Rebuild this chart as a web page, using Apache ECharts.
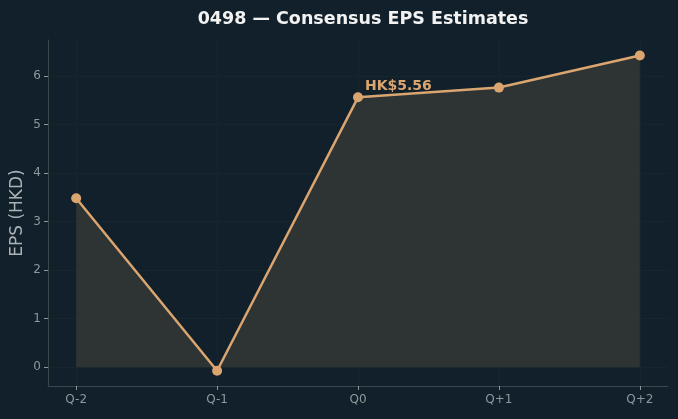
<!DOCTYPE html>
<html>
<head>
<meta charset="utf-8">
<script src="https://cdn.jsdelivr.net/npm/echarts@6/dist/echarts.min.js"></script>
<style>
  html, body { margin: 0; padding: 0; background: #11202a; }
  #chart { width: 678px; height: 419px; }
</style>
</head>
<body>
<div id="chart"></div>
<script>
// quarters and consensus EPS (HKD)
const quarters = ["Q-2", "Q-1", "Q0", "Q+1", "Q+2"];
const eps = [3.48, -0.07, 5.56, 5.76, 6.42];
const yTicks = [0, 1, 2, 3, 4, 5, 6];
const highlightIdx = 2; // current quarter gets the label

const lineColor = "#dba570";
const gridColor = "#16262d";
const spineColor = "#3d474b";
const labelColor = "#8e989c";

const chart = echarts.init(document.getElementById("chart"));

chart.setOption({
  backgroundColor: "#11202a",
  animation: false,
  textStyle: { fontFamily: "DejaVu Sans" },
  title: {
    text: "0498 — Consensus EPS Estimates",
    left: 358,
    textAlign: "center",
    top: 5,
    textStyle: { color: "#f2f2f2", fontSize: 17.5, fontWeight: "bold", fontFamily: "DejaVu Sans" },
  },
  grid: { left: 48, right: 10, top: 40, bottom: 33, outerBoundsMode: "none", containLabel: false },
  xAxis: {
    type: "value",
    min: -0.2,
    max: 4.2,
    axisLine: { show: true, onZero: false, lineStyle: { color: spineColor } },
    axisTick: { show: true, customValues: quarters.map((q, i) => i), length: 4, lineStyle: { color: labelColor } },
    axisLabel: {
      customValues: quarters.map((q, i) => i),
      formatter: (v) => quarters[Math.round(v)],
      color: labelColor,
      fontSize: 12,
      margin: 8,
    },
    splitLine: { show: true, lineStyle: { color: gridColor, width: 1 } },
  },
  yAxis: {
    type: "value",
    min: -0.385,
    max: 6.74,
    name: "EPS (HKD)",
    nameLocation: "middle",
    nameGap: 22,
    nameMoveOverlap: false,
    nameTextStyle: { color: "#aab2b5", fontSize: 17 },
    axisLine: { show: true, onZero: false, lineStyle: { color: spineColor } },
    axisTick: { show: true, customValues: yTicks, length: 4, lineStyle: { color: labelColor } },
    axisLabel: {
      customValues: yTicks,
      color: labelColor,
      fontSize: 12,
      margin: 7,
    },
    splitLine: { show: true, lineStyle: { color: gridColor, width: 1 } },
  },
  series: [
    {
      type: "line",
      data: eps.map((v, i) => {
        const item = { value: [i, v] };
        if (i === highlightIdx) {
          item.label = {
            show: true,
            formatter: "HK$" + v.toFixed(2),
            position: "inside",
            align: "left",
            verticalAlign: "middle",
            offset: [7, -11],
            color: lineColor,
            fontSize: 14,
            fontWeight: "bold",
          };
        }
        return item;
      }),
      symbol: "circle",
      symbolSize: 10,
      itemStyle: { color: lineColor },
      lineStyle: { color: lineColor, width: 2.5 },
      areaStyle: { color: "#2e3434", opacity: 1, origin: 0 },
      z: 3,
    },
  ],
});
</script>
</body>
</html>
